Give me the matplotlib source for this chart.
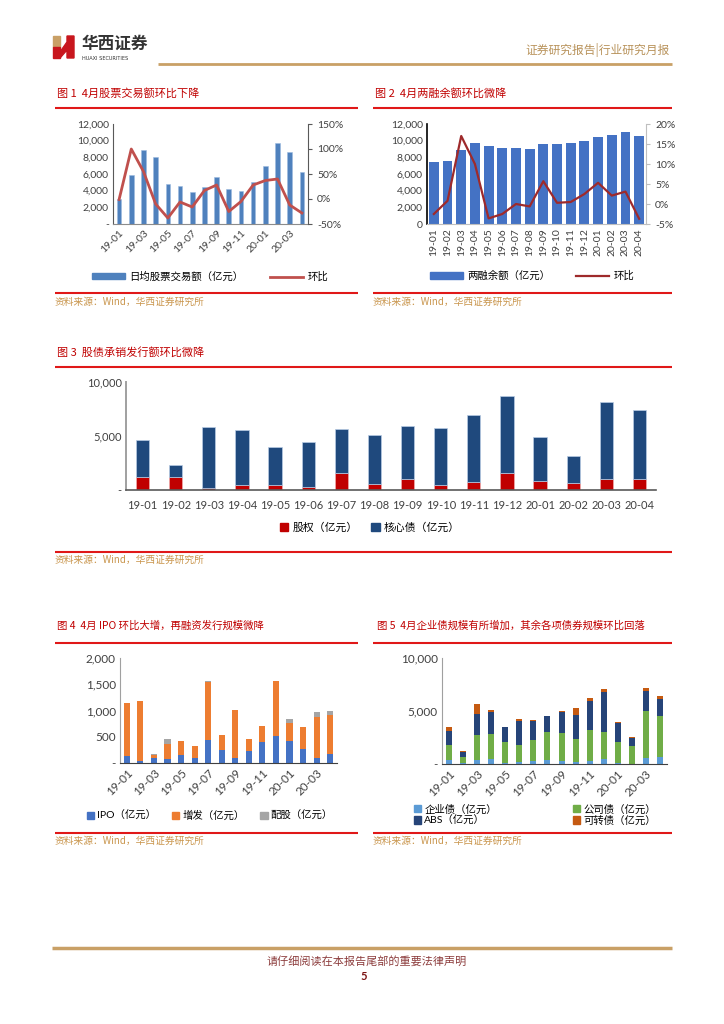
import matplotlib
matplotlib.use('Agg')
import matplotlib.pyplot as plt
from matplotlib.patches import Polygon, Patch
from matplotlib.lines import Line2D
from matplotlib.ticker import FuncFormatter
import numpy as np

plt.rcParams['font.family'] = ['Lato', 'Noto Sans CJK SC', 'DejaVu Sans']
plt.rcParams['axes.unicode_minus'] = False

months = ['19-01', '19-02', '19-03', '19-04', '19-05', '19-06', '19-07', '19-08',
          '19-09', '19-10', '19-11', '19-12', '20-01', '20-02', '20-03', '20-04']

# 图1 日均股票交易额 / 环比(%)
turnover = [3000, 5900, 8850, 8000, 4850, 4580, 3870, 4390,
            5620, 4190, 3990, 5060, 6940, 9770, 8610, 6260]
turnover_mom = [-1, 100, 55, -10, -38, -6, -16, 17, 28, -25, -5, 28, 37, 40, -12, -28]

# 图2 两融余额 / 环比(%)
margin = [7500, 7580, 8850, 9690, 9370, 9130, 9130, 9050,
          9610, 9610, 9690, 9930, 10490, 10690, 11040, 10570]
margin_mom = [-2.5, 0.8, 17.0, 10.0, -3.6, -2.5, 0.0, -0.6,
              5.7, 0.3, 0.5, 2.5, 5.3, 2.1, 3.1, -3.7]

# 图3 股权 / 核心债
equity = [1170, 1200, 220, 460, 430, 310, 1540, 520, 990, 430, 710, 1540, 830, 680, 990, 990]
core_debt = [3490, 1150, 5610, 5100, 3520, 4170, 4140, 4600, 4970, 5310, 6230, 7130, 4050, 2470, 7130, 6420]

# 图4 IPO / 增发 / 配股
ipo = [128, 32, 96, 83, 147, 103, 442, 250, 96, 224, 397, 506, 410, 263, 96, 180]
seo = [1007, 1141, 58, 282, 263, 224, 1103, 288, 910, 225, 314, 1064, 346, 429, 776, 737]
rights = [0, 0, 26, 97, 0, 0, 25, 0, 0, 0, 0, 0, 84, 0, 90, 83]

# 图5 企业债 / 公司债 / ABS / 可转债
ent_bond = [346, 95, 377, 440, 60, 157, 250, 346, 250, 190, 250, 500, 95, 30, 600, 660]
corp_bond = [1444, 595, 2393, 2360, 1980, 1633, 2010, 2704, 2710, 2140, 2930, 2520, 2015, 1670, 4430, 3870]
abs_bond = [1355, 410, 1980, 2070, 1420, 2300, 1830, 1450, 1940, 2320, 2760, 3740, 1730, 720, 1890, 1630]
conv_bond = [345, 95, 910, 260, 60, 120, 30, 60, 70, 630, 260, 320, 150, 100, 220, 220]

W, H = 724, 1024
fig = plt.figure(figsize=(W / 100, H / 100), dpi=100)

def fx(x):
    return x / W

def fy(y):
    return 1 - y / H

def rect(x0, y0, x1, y1):
    return [fx(x0), fy(y1), fx(x1) - fx(x0), fy(y0) - fy(y1)]

def hline(x0, x1, y, color, lw):
    fig.add_artist(Line2D([fx(x0), fx(x1)], [fy(y), fy(y)], transform=fig.transFigure,
                          color=color, lw=lw, solid_capstyle='butt'))

def txt(x, y, s, **kw):
    fig.text(fx(x), fy(y), s, **kw)

RED = '#e01818'
GOLD = '#c9a066'
SRC = '#c9954c'
TITLE = '#c00000'
TICK = '#404040'
CJK = ['Noto Sans CJK SC', 'DejaVu Sans']

def thousands(v, pos):
    return '-' if v == 0 else '{:,.0f}'.format(v)

def style(ax, fs):
    for s in ['top', 'right']:
        ax.spines[s].set_visible(False)
    ax.spines['left'].set_color('#a0a0a0')
    ax.spines['bottom'].set_color('#8c8c8c')
    ax.tick_params(axis='both', labelsize=fs, colors=TICK, length=0, pad=3)
    ax.yaxis.set_major_formatter(FuncFormatter(thousands))
    ax.set_xlim(-0.5, 15.5)

def title(x, y, s, fs=8):
    txt(x, y, s, fontsize=fs, color=TITLE, va='center', family=CJK)

def source(x, y):
    txt(x, y, '资料来源：Wind，华西证券研究所', fontsize=7, color=SRC, va='center', family=CJK)

x = np.arange(len(months))

# ---------- header ----------
fig.add_artist(Polygon([(fx(53), fy(36)), (fx(60), fy(36)), (fx(60), fy(47)), (fx(53), fy(47))],
                       closed=True, transform=fig.transFigure, color='#c9a066'))
fig.add_artist(Polygon([(fx(53), fy(47)), (fx(60), fy(47)), (fx(60), fy(58)), (fx(53), fy(58))],
                       closed=True, transform=fig.transFigure, color='#c8161d'))
fig.add_artist(Polygon([(fx(60), fy(52)), (fx(67), fy(42)), (fx(67), fy(36)), (fx(74), fy(36)),
                        (fx(74), fy(58)), (fx(67), fy(58)), (fx(67), fy(50)), (fx(60), fy(58))],
                       closed=True, transform=fig.transFigure, color='#c8161d'))
txt(82, 44, '华西证券', fontsize=12, color='#333333', fontweight='bold', va='center', family=CJK)
txt(82, 58, 'HUAXI SECURITIES', fontsize=3.6, color='#333333', va='center', family=['DejaVu Sans'])
txt(670, 50, '证券研究报告|行业研究月报', fontsize=8.5, color='#b8925a', ha='right', va='center',
    family=CJK)
hline(158, 672, 64, GOLD, 2)

# ---------- 图1 ----------
title(57, 93, '图 1  4月股票交易额环比下降')
hline(55, 358, 108, RED, 1.5)
ax1 = fig.add_axes(rect(113, 124, 308, 224))
ax1.bar(x, turnover, width=0.38, color='#4f81bd', edgecolor='#9dbbe0', lw=0.4)
ax1.set_ylim(0, 12000)
ax1.set_yticks(np.arange(0, 12001, 2000))
style(ax1, 7.5)
ax1.spines['left'].set_color('#595959')
ax1.set_xticks(x[::2])
ax1.set_xticklabels(months[::2], rotation=45, ha='right', rotation_mode='anchor')
ax1r = ax1.twinx()
ax1r.plot(x, np.array(turnover_mom) / 100, color='#c0504d', lw=2)
ax1r.set_ylim(-0.5, 1.5)
ax1r.set_yticks([-0.5, 0, 0.5, 1.0, 1.5])
ax1r.set_yticklabels(['-50%', '0%', '50%', '100%', '150%'])
for s in ['top', 'left', 'bottom']:
    ax1r.spines[s].set_visible(False)
ax1r.spines['right'].set_color('#595959')
ax1r.tick_params(axis='y', labelsize=7.5, colors=TICK, length=3, color='#595959')
ax1r.set_xlim(-0.5, 15.5)
fig.legend(handles=[Patch(color='#4f81bd', label='日均股票交易额（亿元）'),
                    Line2D([], [], color='#c0504d', lw=2, label='环比')],
           loc='center', bbox_to_anchor=(fx(210), fy(277)), ncol=2, frameon=False,
           fontsize=7.5, handlelength=3.2, handleheight=0.5, columnspacing=2.5, handletextpad=0.4)
hline(55, 358, 293, RED, 1.5)
source(55, 302)

# ---------- 图2 ----------
title(375, 93, '图 2  4月两融余额环比微降')
hline(373, 672, 108, RED, 1.5)
ax2 = fig.add_axes(rect(427, 124, 646, 224))
ax2.bar(x, margin, width=0.72, color='#4472c4')
ax2.set_ylim(0, 12000)
ax2.set_yticks(np.arange(0, 12001, 2000))
style(ax2, 7.5)
ax2.yaxis.set_major_formatter(FuncFormatter(lambda v, p: '{:,.0f}'.format(v)))
ax2.spines['left'].set_color('#000000')
ax2.spines['left'].set_linewidth(1.2)
ax2.spines['bottom'].set_color('#bfbfbf')
ax2.set_xticks(x)
ax2.set_xticklabels(months, rotation=90)
ax2r = ax2.twinx()
ax2r.plot(x, np.array(margin_mom) / 100, color='#9e2a2b', lw=1.6)
ax2r.set_ylim(-0.05, 0.20)
ax2r.set_yticks([-0.05, 0, 0.05, 0.10, 0.15, 0.20])
ax2r.set_yticklabels(['-5%', '0%', '5%', '10%', '15%', '20%'])
for s in ['top', 'left', 'bottom']:
    ax2r.spines[s].set_visible(False)
ax2r.spines['right'].set_color('#bfbfbf')
ax2r.tick_params(axis='y', labelsize=7.5, colors=TICK, length=3, color='#bfbfbf')
ax2r.set_xlim(-0.5, 15.5)
fig.legend(handles=[Patch(color='#4472c4', label='两融余额（亿元）'),
                    Line2D([], [], color='#9e2a2b', lw=1.6, label='环比')],
           loc='center', bbox_to_anchor=(fx(532), fy(276)), ncol=2, frameon=False,
           fontsize=7.5, handlelength=3.2, handleheight=0.6, columnspacing=2.5, handletextpad=0.4)
hline(373, 672, 293, RED, 1.5)
source(373, 302)

# ---------- 图3 ----------
title(57, 352, '图 3  股债承销发行额环比微降')
hline(55, 672, 367, RED, 1.5)
ax3 = fig.add_axes(rect(126, 382, 656, 490))
ax3.bar(x, equity, width=0.4, color='#c00000', edgecolor='#f4b6b6', lw=0.4)
ax3.bar(x, core_debt, width=0.4, bottom=equity, color='#1f497d', edgecolor='#b8cce4', lw=0.5)
ax3.set_ylim(0, 10000)
ax3.set_yticks([0, 5000, 10000])
style(ax3, 8)
ax3.spines['left'].set_linewidth(1.4)
ax3.spines['bottom'].set_color('#595959')
ax3.spines['bottom'].set_linewidth(1.2)
ax3.set_xticks(x)
ax3.set_xticklabels(months)
ax3.tick_params(axis='x', pad=7)
fig.legend(handles=[Patch(color='#c00000', label='股权（亿元）'),
                    Patch(color='#1f497d', label='核心债（亿元）')],
           loc='center', bbox_to_anchor=(fx(370), fy(527)), ncol=2, frameon=False,
           fontsize=7.8, handlelength=0.8, handleheight=0.8, columnspacing=1.2, handletextpad=0.4)
hline(55, 672, 552, RED, 1.5)
source(55, 560)

# ---------- 图4 ----------
title(57, 626, '图 4  4月 IPO 环比大增，再融资发行规模微降', fs=7.5)
hline(55, 358, 643, RED, 1.5)
ax4 = fig.add_axes(rect(120, 658, 337, 763))
ax4.bar(x, ipo, width=0.45, color='#4472c4')
b4 = np.array(ipo)
ax4.bar(x, seo, width=0.45, bottom=b4, color='#ed7d31')
b4 = b4 + np.array(seo)
ax4.bar(x, rights, width=0.45, bottom=b4, color='#a5a5a5')
ax4.set_ylim(0, 2000)
ax4.set_yticks(np.arange(0, 2001, 500))
style(ax4, 8.5)
ax4.spines['bottom'].set_color('#404040')
ax4.set_xticks(x[::2])
ax4.set_xticklabels(months[::2], rotation=45, ha='right', rotation_mode='anchor')
fig.legend(handles=[Patch(color='#4472c4', label='IPO（亿元）'),
                    Patch(color='#ed7d31', label='增发（亿元）'),
                    Patch(color='#a5a5a5', label='配股（亿元）')],
           loc='center', bbox_to_anchor=(fx(210), fy(816)), ncol=3, frameon=False,
           fontsize=7.5, handlelength=0.7, handleheight=0.7, columnspacing=1.5, handletextpad=0.3)
hline(55, 358, 833, RED, 1.5)
source(55, 841)

# ---------- 图5 ----------
title(377, 626, '图 5  4月企业债规模有所增加，其余各项债券规模环比回落', fs=7.5)
hline(373, 672, 643, RED, 1.5)
ax5 = fig.add_axes(rect(442, 658, 667, 764))
b5 = np.zeros(len(months))
for vals, col in [(ent_bond, '#5b9bd5'), (corp_bond, '#70ad47'),
                  (abs_bond, '#264478'), (conv_bond, '#c55a11')]:
    ax5.bar(x, vals, width=0.43, bottom=b5, color=col)
    b5 = b5 + np.array(vals)
ax5.set_ylim(0, 10000)
ax5.set_yticks([0, 5000, 10000])
style(ax5, 8.5)
ax5.spines['bottom'].set_color('#404040')
ax5.set_xticks(x[::2])
ax5.set_xticklabels(months[::2], rotation=45, ha='right', rotation_mode='anchor')
fig.legend(handles=[Patch(color='#5b9bd5', label='企业债（亿元）'),
                    Patch(color='#264478', label='ABS（亿元）'),
                    Patch(color='#70ad47', label='公司债（亿元）'),
                    Patch(color='#c55a11', label='可转债（亿元）')],
           loc='center', bbox_to_anchor=(fx(535), fy(815)), ncol=2, frameon=False,
           fontsize=7.5, handlelength=0.7, handleheight=0.7, columnspacing=7.3,
           handletextpad=0.3, labelspacing=0.1)
hline(373, 672, 833, RED, 1.5)
source(373, 841)

# ---------- footer ----------
hline(52, 672, 948, GOLD, 2.5)
txt(367, 961, '请仔细阅读在本报告尾部的重要法律声明', fontsize=8, color='#8c3c3c', ha='center',
    va='center', family=CJK)
txt(364, 977, '5', fontsize=8, color='#7a1010', ha='center', va='center', fontweight='bold',
    family=['Lato'])

fig.savefig('out.png', dpi=100)
